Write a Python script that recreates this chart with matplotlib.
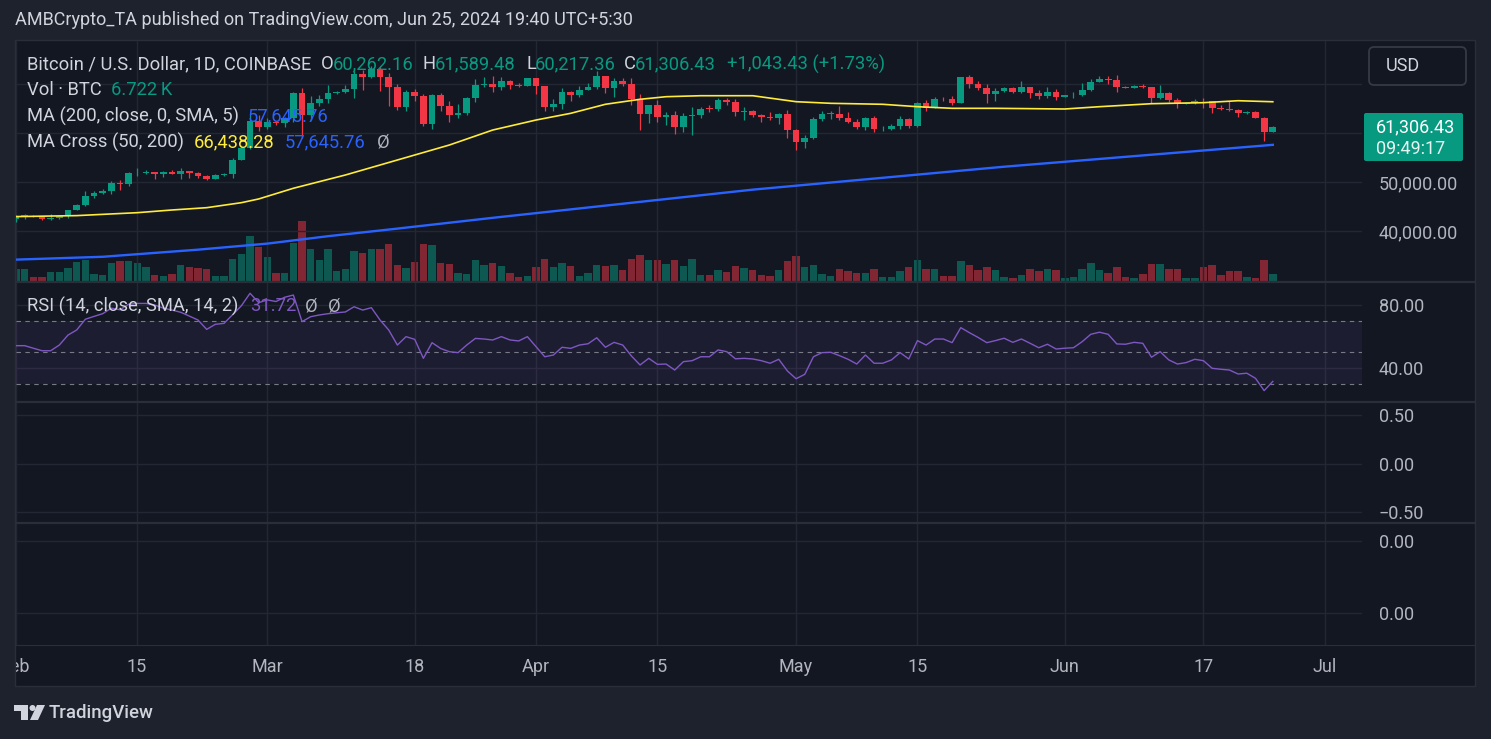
import numpy as np
import pandas as pd
import matplotlib
matplotlib.use("Agg")
import matplotlib.pyplot as plt
import matplotlib.dates as mdates
import matplotlib.transforms as mtransforms
from matplotlib.patches import Rectangle, FancyBboxPatch, Polygon, Circle

plt.rcParams["font.family"] = ["Roboto", "DejaVu Sans"]

# ---------------- data ----------------
dates = pd.date_range("2024-02-01", "2024-06-25", freq="D")

open_ = [
    42580, 43080, 43190, 43000, 42580, 42660, 43090, 44350, 45300, 47150, 47770, 48300, 49950, 49700, 51800,
    51900, 52150, 51660, 52120, 51780, 52280, 51850, 51300, 50750, 51570, 51730, 54500, 57050, 62500,
    61200, 62400, 62050, 63130, 68300, 63800, 66100, 66900, 68300, 68500, 69000, 72100, 71450, 73100, 71400,
    69450, 65300, 68400, 67600, 61950, 67850, 65500, 63800, 64100, 67200, 69950, 69990, 69450, 70750, 69900, 69650,
    71300, 69650, 65450, 65950, 68500, 67850, 68900, 69350, 71600, 69150, 70600, 70000, 67100, 63900, 65700,
    63400, 63800, 61300, 63450, 63800, 64950, 64940, 66850, 66400, 64300, 64500, 63750, 63400, 63100, 63850,
    60600, 58300, 59100, 62900, 63900, 64000, 63150, 62300, 61200, 63100, 60800, 60820, 61450, 62900, 61550,
    66250, 65250, 67050, 66950, 66250, 71450, 70150, 69150, 67950, 68550, 69300, 68500, 69400, 68300, 67600, 68350,
    67500, 67750, 67760, 68800, 70550, 71100, 70800, 69350, 69300, 69650, 69500, 67300, 68250, 66750, 66000,
    66200, 66650, 66500, 65150, 64950, 64850, 64100, 64250, 63200, 60262.16,
]
high = [
    43290, 43480, 43380, 43110, 43500, 43400, 44380, 45600, 48200, 48160, 48580, 50350, 50380, 52050, 52850,
    52580, 52200, 52380, 52500, 52980, 52380, 52050, 51550, 51700, 51950, 54900, 57580, 64000, 63680,
    63150, 62450, 63250, 68500, 69200, 67600, 67900, 69950, 68600, 69950, 72800, 72950, 73650, 73800, 72400,
    70000, 68900, 68950, 68100, 68100, 68200, 66650, 65950, 67500, 71100, 71500, 71700, 71550, 70900, 70300, 71350,
    71350, 69700, 66900, 69300, 68700, 69600, 70300, 72750, 71750, 71200, 71250, 71250, 67950, 65850, 66850,
    64350, 64500, 64100, 65450, 65400, 65700, 67200, 67200, 67050, 65300, 64800, 63900, 64350, 64200, 64700,
    60800, 59600, 63300, 64500, 64600, 65500, 64400, 62950, 63400, 63450, 61500, 61800, 63450, 63100, 66450,
    66750, 67450, 67400, 67700, 71500, 71950, 70650, 70050, 69250, 69550, 69500, 70600, 69550, 68900, 69500, 69000,
    67850, 68450, 70250, 71050, 71750, 71650, 71950, 69600, 69850, 70150, 69550, 69950, 68400, 67300, 66400,
    66950, 67250, 66550, 65750, 66500, 65050, 64550, 64550, 63400, 61589.48,
]
low = [
    41880, 42580, 42880, 42250, 42280, 42600, 42780, 44330, 45250, 46800, 47570, 47700, 48350, 49280, 51300,
    51600, 50650, 51160, 51680, 50650, 50800, 50900, 50550, 50600, 51300, 50900, 54450, 56700, 60400,
    60800, 61600, 61300, 62350, 59000, 62800, 65550, 66200, 68100, 68200, 67200, 68800, 71350, 68600, 65600,
    64800, 64600, 66600, 61550, 60800, 64600, 62300, 63050, 63800, 66400, 69400, 68400, 68900, 69050, 69550, 69600,
    68100, 64500, 64500, 65050, 66600, 67450, 68800, 69050, 68250, 67500, 69600, 65800, 60700, 62200, 62300,
    61700, 59800, 60200, 59600, 63100, 64300, 64500, 65850, 63600, 62800, 63300, 62400, 62800, 61800, 59100,
    56550, 56950, 58800, 62600, 62900, 62700, 62200, 60900, 60600, 60200, 60500, 60650, 60800, 61100, 61350,
    64600, 65100, 66600, 65850, 66100, 69200, 68850, 66100, 66600, 68500, 68250, 68250, 67250, 67100, 67150, 66700,
    67400, 67300, 67600, 68550, 70400, 70150, 68500, 69200, 69150, 69250, 66100, 66900, 66300, 65100, 65900,
    66000, 65100, 64100, 64700, 64500, 63400, 63950, 63150, 58400, 60217.36,
]
close = [
    43080, 43190, 43000, 42580, 42660, 43090, 44350, 45300, 47150, 47770, 48300, 49950, 49700, 51800, 51900,
    52150, 51660, 52120, 51780, 52280, 51850, 51300, 50750, 51570, 51730, 54500, 57050, 62500, 61200,
    62400, 62050, 63130, 68300, 63800, 66100, 66900, 68300, 68500, 69000, 72100, 71450, 73100, 71400, 69450,
    65300, 68400, 67600, 61950, 67850, 65500, 63800, 64100, 67200, 69950, 69990, 69450, 70750, 69900, 69650, 71300,
    69650, 65450, 65950, 68500, 67850, 68900, 69350, 71600, 69150, 70600, 70000, 67100, 63900, 65700, 63400,
    63800, 61300, 63450, 63800, 64950, 64940, 66850, 66400, 64300, 64500, 63750, 63400, 63100, 63850, 60600,
    58300, 59100, 62900, 63900, 64000, 63150, 62300, 61200, 63100, 60800, 60820, 61450, 62900, 61550, 66250,
    65250, 67050, 66950, 66250, 71450, 70150, 69150, 67950, 68550, 69300, 68500, 69400, 68300, 67600, 68350, 67500,
    67750, 67760, 68800, 70550, 71100, 70800, 69350, 69300, 69650, 69500, 67300, 68250, 66750, 66000, 66200,
    66650, 66500, 65150, 64950, 64850, 64100, 64250, 63200, 60263.00, 61306.43,
]
# volume in thousands of BTC
volume_k = [
    11.7, 11.7, 3.7, 3.7, 8.7, 8.7, 12.7, 19.0, 20.7, 6.7, 5.7, 17.7, 19.7, 19.7, 17.7,
    13.7, 5.7, 4.7, 6.7, 15.7, 13.7, 12.7, 11.7, 4.7, 4.7, 21.7, 26.7, 44.7, 33.7,
    23.7, 7.7, 7.7, 37.7, 59.7, 31.7, 20.7, 31.7, 9.7, 11.7, 29.7, 27.7, 31.7, 31.7, 36.7,
    15.7, 12.7, 18.7, 36.7, 35.7, 17.7, 16.7, 7.7, 6.7, 20.7, 15.7, 17.7, 14.7, 7.7, 3.7, 4.7,
    13.7, 21.7, 13.7, 17.7, 14.7, 4.7, 7.7, 15.7, 14.7, 15.7, 10.7, 21.7, 25.7, 20.7, 20.7,
    16.7, 20.7, 14.7, 21.7, 5.7, 5.7, 10.7, 8.7, 14.7, 12.7, 10.7, 5.7, 4.7, 10.7, 19.7,
    24.7, 13.7, 15.7, 6.7, 4.7, 11.7, 9.7, 7.7, 7.7, 11.7, 3.7, 3.7, 9.7, 13.7, 20.7,
    11.7, 11.7, 4.7, 4.7, 19.7, 15.7, 10.7, 13.7, 10.7, 3.7, 2.7, 5.7, 11.7, 9.7, 11.7, 10.7,
    2.7, 3.7, 11.7, 17.7, 10.7, 7.7, 13.7, 3.7, 2.7, 6.7, 16.7, 16.7, 11.7, 11.7, 2.7,
    2.7, 13.7, 15.7, 5.7, 9.7, 9.7, 3.7, 2.7, 20.7, 6.722,
]
rsi = [
    54.3, 54.3, 52.7, 51.1, 51.1, 54.7, 61.0, 64.2, 71.0, 72.8, 74.5, 78.0, 77.0, 80.5, 81.0,
    81.0, 80.0, 78.0, 76.8, 75.4, 73.0, 70.5, 64.6, 67.8, 68.4, 74.0, 79.5, 87.4, 81.5,
    83.2, 82.2, 84.9, 86.3, 69.5, 72.6, 73.7, 74.5, 75.1, 75.6, 78.9, 76.8, 78.3, 70.5, 64.2,
    54.7, 60.0, 58.3, 46.3, 56.2, 52.5, 50.5, 49.9, 54.7, 58.9, 58.5, 57.9, 60.0, 57.9, 57.3, 60.0,
    53.7, 47.3, 48.4, 53.3, 52.6, 54.7, 55.5, 59.3, 53.3, 56.4, 54.7, 47.8, 42.1, 46.3, 42.5,
    42.7, 38.9, 44.2, 44.8, 47.3, 47.3, 51.6, 50.5, 46.0, 46.3, 45.9, 44.8, 43.2, 45.7, 38.3,
    33.4, 36.2, 47.3, 49.9, 50.1, 48.0, 45.7, 42.7, 48.4, 43.2, 43.2, 45.3, 49.9, 45.9, 57.5,
    54.7, 58.5, 58.5, 56.2, 65.7, 62.5, 59.5, 56.2, 57.5, 59.0, 56.4, 58.5, 55.8, 53.0, 55.2, 52.2,
    52.7, 53.0, 56.8, 61.5, 62.8, 61.5, 55.4, 55.2, 56.4, 55.8, 47.0, 50.5, 45.3, 42.7, 43.6,
    45.7, 44.8, 40.0, 39.4, 38.9, 36.4, 36.9, 33.7, 25.9, 31.72,
]
ma50_dates = ["2024-02-01", "2024-02-08", "2024-02-15", "2024-02-19", "2024-02-23", "2024-02-27",
              "2024-02-29", "2024-03-04", "2024-03-10", "2024-03-16", "2024-03-22", "2024-03-27",
              "2024-04-01", "2024-04-05", "2024-04-09", "2024-04-13", "2024-04-16", "2024-04-20",
              "2024-04-26", "2024-05-01", "2024-05-05", "2024-05-11", "2024-05-15", "2024-05-19",
              "2024-05-24", "2024-06-01", "2024-06-05", "2024-06-11", "2024-06-17", "2024-06-21",
              "2024-06-25"]
ma50 = [43000, 43200, 43800, 44350, 44820, 45840, 46600, 48780, 51490, 54550, 57610, 60670,
        62710, 64080, 65920, 66940, 67470, 67670, 67670, 66450, 66120, 65920, 65430, 65100,
        65100, 64960, 65430, 66040, 66250, 66650, 66438.28]
ma200_dates = ["2024-02-01", "2024-02-11", "2024-02-22", "2024-03-01", "2024-03-08", "2024-03-16",
               "2024-03-27", "2024-04-26", "2024-05-25", "2024-06-25"]
ma200 = [34220, 34800, 36250, 37490, 39000, 40550, 42750, 48500, 53180, 57645.76]

tick_dates = ["2024-02-01", "2024-02-15", "2024-03-01", "2024-03-18", "2024-04-01", "2024-04-15",
              "2024-05-01", "2024-05-15", "2024-06-01", "2024-06-17", "2024-07-01"]
tick_labels = ["Feb", "15", "Mar", "18", "Apr", "15", "May", "15", "Jun", "17", "Jul"]

# ---------------- style ----------------
BG = "#131722"
OUTER = "#1e222d"
GRID = "#232733"
SEP = "#2a2e39"
TXT = "#d1d4dc"
GRAY = "#b2b5be"
UP = "#089981"
DOWN = "#f23645"
FS = 13.0
LEG = 13.2

W, H = 1491, 739
fig = plt.figure(figsize=(W / 100, H / 100), dpi=100)
fig.patch.set_facecolor(OUTER)


def rect(l, t, r, b):
    return [l / W, 1 - b / H, (r - l) / W, (b - t) / H]


bg = fig.add_axes([0, 0, 1, 1])
bg.set_xlim(0, W)
bg.set_ylim(H, 0)
bg.axis("off")
bg.set_zorder(-5)
bg.add_patch(Rectangle((15, 40), 1460, 646, facecolor=BG, edgecolor=SEP, lw=1))

xd = mdates.date2num(dates)
x0 = xd[0]
xlim = (x0 + 0.05, x0 + 155.29)
tick_x = mdates.date2num(pd.to_datetime(tick_dates))
o = np.array(open_)
c = np.array(close)
up = c >= o
colors = np.where(up, UP, DOWN)

L, R = 16, 1362


def style_y(a):
    a.yaxis.tick_right()
    a.tick_params(axis="y", length=0, pad=12, labelsize=FS, labelcolor=GRAY)


def pane(top, bottom, yticks, ylabels, ylim):
    a = fig.add_axes(rect(L, top, R, bottom))
    a.patch.set_visible(False)
    for s in a.spines.values():
        s.set_visible(False)
    a.set_xlim(*xlim)
    a.set_ylim(*ylim)
    a.set_xticks(tick_x)
    a.set_yticks(yticks)
    a.set_yticklabels(ylabels)
    a.tick_params(axis="x", length=0, labelbottom=False)
    style_y(a)
    a.grid(True, color=GRID, lw=1)
    a.set_axisbelow(True)
    return a


# main price pane + volume
ax = pane(41, 281, [40000, 50000, 60000, 70000], ["40,000.00", "50,000.00", "", ""], (29857, 78837))
ax_vol = ax.twinx()
ax_vol.set_ylim(0, 240)
ax_vol.axis("off")
style_y(ax)  # twinx moves the ticks to the left, put them back on the right
ax.set_zorder(ax_vol.get_zorder() + 1)
ax_vol.bar(xd, volume_k, width=0.86, color=colors, alpha=0.5, linewidth=0)

body_lo = np.minimum(o, c)
body_h = np.maximum(np.abs(c - o), 150)
ax.vlines(xd, low, high, colors=colors, lw=0.9, zorder=3)
ax.bar(xd, body_h, bottom=body_lo, width=0.78, color=colors, linewidth=0, zorder=4)
ax.plot(mdates.date2num(pd.to_datetime(ma50_dates)), ma50, color="#ffeb3b", lw=1.2, zorder=5)
ax.plot(mdates.date2num(pd.to_datetime(ma200_dates)), ma200, color="#2962ff", lw=1.7, zorder=5)

# RSI pane
axr = pane(283, 401, [40, 80], ["40.00", "80.00"], (19.34, 93.9))
axr.axhspan(30, 70, color="#7e57c2", alpha=0.1, lw=0)
for lvl in (70, 50, 30):
    axr.axhline(lvl, color="#787b86", lw=0.8, ls=(0, (4, 4)))
axr.plot(xd, rsi, color="#7e57c2", lw=1.0)

# two empty panes
pane(403, 522, [0.5, 0.0, -0.5], ["0.50", "0.00", "\u22120.50"], (-0.6, 0.627))
pane(524, 645, [1, 0], ["0.00", "0.00"], (-0.44, 1.24))

# time axis
axt = fig.add_axes(rect(L, 645, R, 685))
axt.set_xlim(*xlim)
axt.axis("off")
tr = mtransforms.blended_transform_factory(axt.transData, axt.transAxes)
for tx, tl in zip(tick_x, tick_labels):
    axt.text(tx, 0.45, tl, transform=tr, ha="center", va="center", color=GRAY,
             fontsize=FS, clip_on=True)

# ---------------- overlay (pixel coordinates) ----------------
ov = fig.add_axes([0, 0, 1, 1])
ov.set_xlim(0, W)
ov.set_ylim(H, 0)
ov.axis("off")
ov.set_zorder(20)

ov.hlines([282, 402, 523], 15, 1475, color=SEP, lw=1.6)
ov.hlines([645], 15, 1475, color=SEP, lw=0.8)

renderer = fig.canvas.get_renderer()


def t(x, y, s, color=GRAY, size=LEG, **kw):
    return ov.text(x, y, s, color=color, fontsize=size, ha="left", va="center", **kw)


def after(txt, gap):
    # x position (pixels) just right of an already placed text
    return txt.get_window_extent(renderer).x1 + gap


t(15, 20, "AMBCrypto_TA published on TradingView.com, Jun 25, 2024 19:40 UTC+5:30", TXT, 13.0)

chg = close[-1] - close[-2]
pct = chg / close[-2] * 100
t(27, 64, "Bitcoin / U.S. Dollar, 1D, COINBASE", TXT)
t(321, 64, "O", TXT)
t(333, 64, f"{open_[-1]:,.2f}", UP)
t(423, 64, "H", TXT)
t(435, 64, f"{high[-1]:,.2f}", UP)
t(526, 64, "L", TXT)
t(535, 64, f"{low[-1]:,.2f}", UP)
t(624, 64, "C", TXT)
t(635, 64, f"{close[-1]:,.2f}", UP)
t(727, 64, f"+{chg:,.2f} (+{pct:.2f}%)", UP)

t(27, 90, "Vol \u00b7 BTC", TXT)
t(111, 90, f"{volume_k[-1]:.3f}\u2009K", UP)
t(27, 116, "MA (200, close, 0, SMA, 5)", TXT)
t(248, 116, f"{ma200[-1]:,.2f}", "#2962ff")
lab = t(27, 142, "MA Cross (50, 200)", TXT)
v1 = t(max(187, after(lab, 10)), 142, f"{ma50[-1]:,.2f}", "#ffeb3b")
v2 = t(max(277, after(v1, 10)), 142, f"{ma200[-1]:,.2f}", "#2962ff")
t(max(367, after(v2, 11)), 142, "\u00d8", GRAY)

t(27, 306, "RSI (14, close, SMA, 14, 2)", TXT)
t(250, 306, f"{rsi[-1]:.2f}", "#7e57c2")
t(305, 306, "\u00d8", GRAY)
t(328, 306, "\u00d8", GRAY)

# USD box
ov.add_patch(FancyBboxPatch((1369, 47), 97, 38, boxstyle="round,pad=0,rounding_size=5",
                            facecolor=BG, edgecolor="#363a45", lw=1.3))
t(1386, 66, "USD", TXT, FS)

# last price label
ov.add_patch(FancyBboxPatch((1364, 113), 99, 48, boxstyle="round,pad=0,rounding_size=2",
                            facecolor=UP, edgecolor="none"))
t(1376, 127, f"{close[-1]:,.2f}", "white", FS)
t(1376, 149, "09:49:17", "#e6f4f1", FS)

# TradingView logo + wordmark
ov.add_patch(Polygon([(14, 705), (28, 705), (28, 720), (21, 720), (21, 711), (14, 711)],
                     closed=True, facecolor=TXT, edgecolor="none"))
ov.add_patch(Circle((32.5, 708), 3.0, facecolor=TXT, edgecolor="none"))
ov.add_patch(Polygon([(37, 705), (45, 705), (38, 720), (30, 720)],
                     closed=True, facecolor=TXT, edgecolor="none"))
t(49, 713, "TradingView", TXT, 13.4, fontweight="medium")

fig.savefig("out.png", dpi=100, facecolor=OUTER)
